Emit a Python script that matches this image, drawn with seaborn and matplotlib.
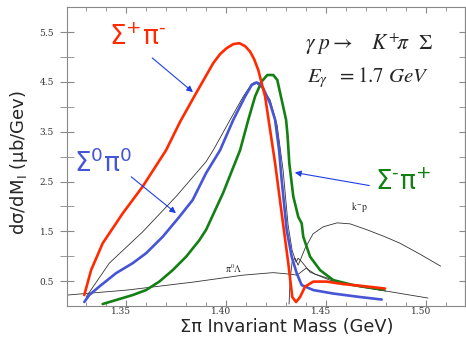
import numpy as np
import pandas as pd
import seaborn as sns
import matplotlib.pyplot as plt
import matplotlib.transforms as mtransforms

red_x = [1.3290, 1.3324, 1.3382, 1.3482, 1.3582, 1.3699, 1.3769, 1.3844, 1.3935, 1.3969,
         1.4002, 1.4035, 1.4065, 1.4094, 1.4119, 1.4139, 1.4160, 1.4194, 1.4219, 1.4244,
         1.4277, 1.4310, 1.4330, 1.4349, 1.4369, 1.4394, 1.4435, 1.4502, 1.4585, 1.4685,
         1.4794]
red_y = [0.22, 0.72, 1.26, 1.86, 2.40, 3.13, 3.70, 4.24, 4.88, 5.06,
         5.18, 5.26, 5.28, 5.22, 5.11, 4.96, 4.74, 4.21, 3.54, 2.87,
         1.86, 0.86, 0.18, 0.08, 0.18, 0.39, 0.49, 0.49, 0.44, 0.40,
         0.35]

blue_x = [1.3290, 1.3315, 1.3365, 1.3449, 1.3532, 1.3599, 1.3682, 1.3765, 1.3832, 1.3899,
          1.3969, 1.4035, 1.4094, 1.4127, 1.4152, 1.4168, 1.4185, 1.4219, 1.4244, 1.4264,
          1.4277, 1.4302, 1.4327, 1.4352, 1.4377, 1.4435, 1.4535, 1.4669, 1.4777]
blue_y = [0.08, 0.22, 0.39, 0.66, 0.86, 1.06, 1.39, 1.79, 2.13, 2.67,
          3.13, 3.74, 4.21, 4.44, 4.49, 4.46, 4.37, 4.07, 3.74, 3.13,
          2.53, 1.53, 0.99, 0.66, 0.42, 0.32, 0.25, 0.18, 0.13]

green_x = [1.3382, 1.3449, 1.3532, 1.3599, 1.3665, 1.3732, 1.3799, 1.3865, 1.3899, 1.3984,
           1.4069, 1.4110, 1.4144, 1.4177, 1.4205, 1.4235, 1.4255, 1.4277, 1.4299, 1.4306,
           1.4315, 1.4335, 1.4360, 1.4377, 1.4385, 1.4419, 1.4469, 1.4535, 1.4635, 1.4785]
green_y = [0.04, 0.12, 0.22, 0.32, 0.49, 0.72, 0.99, 1.32, 1.53, 2.27,
           3.13, 3.74, 4.21, 4.51, 4.64, 4.64, 4.54, 4.14, 3.74, 3.44,
           2.87, 2.20, 1.79, 1.66, 1.39, 0.99, 0.72, 0.52, 0.42, 0.33]

# thin black model curves
tot_x = [1.3299, 1.3415, 1.3582, 1.3749, 1.3899, 1.3935, 1.4019, 1.4085, 1.4127, 1.4144,
         1.4179, 1.4219, 1.4254, 1.4284, 1.4309, 1.4329, 1.4349, 1.4359, 1.4379, 1.4419,
         1.4517, 1.4669, 1.4797]
tot_y = [0.18, 0.86, 1.49, 2.20, 2.90, 3.13, 3.74, 4.21, 4.46, 4.50,
         4.38, 4.14, 3.64, 2.73, 1.63, 1.12, 0.88, 0.96, 0.88, 0.68,
         0.52, 0.38, 0.30]

kp_x = [1.4314, 1.4319, 1.4329, 1.4344, 1.4359, 1.4374, 1.4394, 1.4434, 1.4484, 1.4554,
        1.4619, 1.4704, 1.4794, 1.4869, 1.4969, 1.5072]
kp_y = [0.04, 0.52, 0.88, 0.96, 0.82, 0.96, 1.16, 1.45, 1.59, 1.67,
        1.65, 1.53, 1.39, 1.26, 1.04, 0.80]

pil_x = [1.3205, 1.3504, 1.3834, 1.4084, 1.4234, 1.4319, 1.4354, 1.4399, 1.4444, 1.4569,
         1.4769, 1.5008]
pil_y = [0.22, 0.32, 0.48, 0.62, 0.67, 0.64, 0.62, 0.76, 0.64, 0.48,
         0.32, 0.16]

xticks = [1.35, 1.40, 1.45, 1.50]
xtick_labels = ["1.35", "1.40", "1.45", "1.50"]
yticks = [0.5, 1.5, 2.5, 3.5, 4.5, 5.5]
ytick_labels = ["0.5", "1.5", "2.5", "3.5", "4.5", "5.5"]

RED = "#ff2a00"
BLUE = "#4654d6"
GREEN = "#138013"
ARROW = "#1f3fe6"
THIN = "#333333"
FRAME = "#888888"

sns.set_style("white")
plt.rcParams['font.family'] = ['DejaVu Sans']

fig, ax = plt.subplots(figsize=(4.66, 3.37), dpi=100)
fig.subplots_adjust(left=0.1431, right=0.9989, bottom=0.092, top=0.9783)

for xs, ys in [(tot_x, tot_y), (kp_x, kp_y), (pil_x, pil_y)]:
    sns.lineplot(x=xs, y=ys, ax=ax, color=THIN, lw=0.6, sort=False, estimator=None)
for xs, ys, c in [(green_x, green_y, GREEN), (blue_x, blue_y, BLUE), (red_x, red_y, RED)]:
    sns.lineplot(x=xs, y=ys, ax=ax, color=c, lw=1.9, sort=False, estimator=None,
                 solid_joinstyle='round', solid_capstyle='round')

ax.set_xlim(1.3202, 1.5196)
ax.set_ylim(0, 6.0)

ax.set_xticks(xticks)
ax.set_xticklabels(xtick_labels)
ax.set_xticks(np.arange(1.33, 1.52, 0.01), minor=True)
ax.set_yticks(yticks)
ax.set_yticklabels(ytick_labels)
ax.set_yticks([1, 2, 3, 4, 5], minor=True)

for s in ax.spines.values():
    s.set_color(FRAME)
    s.set_linewidth(0.8)

ax.tick_params(axis='x', which='both', direction='in', top=True, bottom=True,
               color=FRAME, labelsize=6.5, labelcolor="#333333", pad=1)
ax.tick_params(axis='x', which='major', length=4.5)
ax.tick_params(axis='x', which='minor', length=3)
ax.tick_params(axis='y', which='both', direction='inout', left=True, right=False,
               color=FRAME, length=10, labelsize=6.5, labelcolor="#333333", pad=4)

# right-hand ticks point inwards only
sec = ax.secondary_yaxis('right')
sec.set_yticks(yticks)
sec.set_yticks([1, 2, 3, 4, 5], minor=True)
sec.tick_params(which='both', direction='in', length=4.5, color=FRAME, labelright=False)
sec.spines['right'].set_color(FRAME)
sec.spines['right'].set_linewidth(0.8)

for t in ax.get_xticklabels() + ax.get_yticklabels():
    t.set_fontfamily('DejaVu Serif')

# tick labels sit a little left of their ticks in the original
offset = mtransforms.ScaledTranslation(-5 / 100, 0, fig.dpi_scale_trans)
for t in ax.get_xticklabels():
    t.set_transform(t.get_transform() + offset)

ax.set_xlabel("Σπ Invariant Mass (GeV)", fontsize=12.8)
ax.xaxis.set_label_coords(0.551, -0.041)
ax.set_ylabel(r"dσ/dM$_\mathregular{I}$ (μb/Gev)", fontsize=13)
ax.yaxis.set_label_coords(-0.092, 0.48)

# channel labels with arrows
arrow_kw = dict(arrowstyle="-|>", color=ARROW, lw=0.8, mutation_scale=9)
ax.text(1.3554, 5.39, r"$\mathregular{\Sigma^{+}\pi^{\text{-}}}$", color=RED, fontsize=19,
        ha='center', va='center')
ax.annotate("", xy=(1.3844, 4.26), xytext=(1.3619, 5.02), arrowprops=arrow_kw)
ax.text(1.3384, 2.85, r"$\mathregular{\Sigma^{0}\pi^{0}}$", color=BLUE, fontsize=19,
        ha='center', va='center')
ax.annotate("", xy=(1.3759, 1.83), xytext=(1.3514, 2.63), arrowprops=arrow_kw)
ax.text(1.4883, 2.47, r"$\mathregular{\Sigma^{\text{-}}\pi^{+}}$", color=GREEN, fontsize=19,
        ha='center', va='center')
ax.annotate("", xy=(1.4329, 2.69), xytext=(1.4729, 2.41), arrowprops=arrow_kw)

# reaction text
ax.text(1.4394, 5.25, r"$\gamma\ p \rightarrow\quad K^{+}\!\pi\ \ \Sigma$", fontsize=15.5,
        math_fontfamily='stix', ha='left', va='center')
ax.text(1.4404, 4.59, r"$E_{\gamma}\ \ \mathrm{=1.7}\ GeV$", fontsize=15,
        math_fontfamily='stix', ha='left', va='center')

ax.text(1.4664, 1.99, r"$\mathrm{k^{-}p}$", fontsize=7, math_fontfamily='stix',
        ha='center', va='center')
ax.text(1.4039, 0.76, r"$\mathrm{\pi^{0}\Lambda}$", fontsize=7, math_fontfamily='stix',
        ha='center', va='center')

fig.savefig("out.png", dpi=100)
